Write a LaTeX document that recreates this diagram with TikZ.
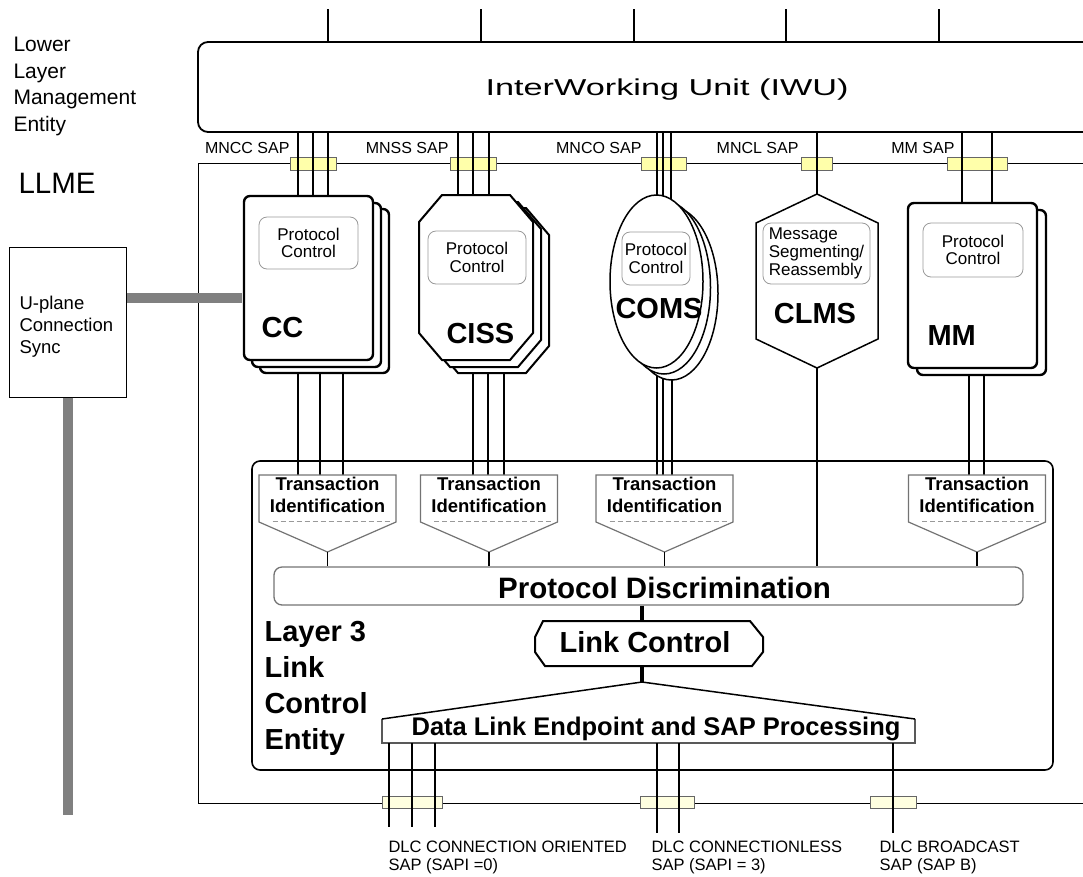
\documentclass[tikz,border=0pt]{standalone}
\usepackage{fontspec}
\setmainfont{Liberation Sans}
\usetikzlibrary{positioning,calc,shapes.geometric}
\definecolor{sapyel}{RGB}{255,255,170}
\definecolor{sapcream}{RGB}{255,255,224}
\definecolor{bargray}{RGB}{128,128,128}
\newcommand{\fsz}[2]{\fontsize{#1}{#2}\selectfont}

\begin{document}
\begin{tikzpicture}[x=1pt,y=-1pt,
  conn/.style={line width=1.2pt},
  sapbox/.style={draw=black!60, fill=sapyel, line width=1pt},
  dlcbox/.style={draw=black!60, fill=sapcream, line width=1pt},
  ent/.style={draw, fill=white, line width=2.4pt, rounded corners=6pt, inner sep=0pt},
  pcbox/.style={draw=black!40, fill=white, line width=0.8pt, rounded corners=8pt, inner sep=1pt},
  pctext/.style={font=\fsz{17}{17.5}, align=center},
  biglbl/.style={font=\fsz{29}{36}\bfseries},
  tibox/.style={draw=black!55, fill=white, line width=1.2pt},
  saplbl/.style={font=\fsz{16}{18}, anchor=base east},
  dlclbl/.style={font=\fsz{16.5}{18}, anchor=base west, align=left},
  ubar/.style={draw=bargray, line width=9.5pt}
]
\useasboundingbox (0,0) rectangle (1083,876);
\clip (0,0) rectangle (1083,876);

% frames
\draw[line width=1pt] (1100,163) -- (198,163) -- (198,803) -- (1100,803);
\draw[line width=1.6pt, rounded corners=8pt] (252,461) rectangle (1053,770);

% interworking unit
\node[draw, line width=1.8pt, rounded corners=10pt, inner sep=0pt, minimum width=922pt, minimum height=90pt] (IWU) at (659,87) {};
\node[anchor=base west, font=\fsz{23}{26}] (IWUtxt) at (482,95) {\scalebox{1.49}[1]{InterWorking Unit (IWU)}};
\foreach \x in {328,481,634,786,939} \draw[conn] (\x,9) -- (\x,0 |- IWU.north);

% management SAPs
\foreach \a/\b in {290/336, 450/496, 641/686, 801/832, 947/1007}
  \draw[sapbox] (\a,157) rectangle (\b,170);
\foreach \x/\t in {293/MNCC, 452/MNSS, 645/MNCO, 802/MNCL, 958/MM}
  \node[saplbl] (L\t) at (\x,153) {\t\ SAP};

% protocol discrimination
\node[draw=black!55, line width=1.3pt, rounded corners=8pt, inner sep=0pt, minimum width=749pt, minimum height=38pt] (PD) at (648.5,586) {};
\node[font=\fsz{29.5}{30}\bfseries, anchor=base] (PDtxt) at (664.5,598) {Protocol Discrimination};

\coordinate (T1) at (327.5,475);
\coordinate (T2) at (489,475);
\coordinate (T3) at (664.5,476);
\coordinate (T4) at (977,476);

% connectors to the entities
\foreach \x in {298,313,328} \draw[conn] (\x,0 |- IWU.south) -- (\x,230);
\foreach \x in {298,320,343} \draw[conn] (\x,330) -- (\x,0 |- T1);
\foreach \x in {458,473,489} \draw[conn] (\x,0 |- IWU.south) -- (\x,230);
\foreach \x in {473,488,504} \draw[conn] (\x,330) -- (\x,0 |- T2);
\foreach \x in {657,663,671} \draw[conn] (\x,0 |- IWU.south) -- (\x,230);
\foreach \x in {657,663,672} \draw[conn] (\x,330) -- (\x,0 |- T3);
\draw[conn] (817,0 |- IWU.south) -- (817,0 |- PD.north);
\foreach \x in {962,992} \draw[conn] (\x,0 |- IWU.south) -- (\x,230);
\foreach \x in {969,984} \draw[conn] (\x,330) -- (\x,0 |- T4);

% CC
\foreach \d/\e in {16/13,8/7}
  \node[ent, minimum width=129pt, minimum height=164pt] at (308.5+\d,278+\e) {};
\node[ent, minimum width=129pt, minimum height=164pt] (CC) at (308.5,278) {};
\node[pcbox, pctext, minimum width=99pt, minimum height=52pt] (CCpc) at (308.5,243) {Protocol\\Control};
\node[biglbl, anchor=base west] (CClbl) at (258,337) {CC};

% CISS
\foreach \d/\e in {16/13,8/7,0/0}
  \draw[line width=2pt, fill=white, shift={(\d,\e)}] (419,222) -- (442,195) -- (510,195) -- (533,222)
    -- (533,333) -- (510,360) -- (442,360) -- (419,333) -- cycle;
\coordinate (CISS) at (476,277.5);
\node[pcbox, pctext, minimum width=98pt, minimum height=53pt] (CISSpc) at (477,257.5) {Protocol\\Control};
\node[biglbl, anchor=base west] (CISSlbl) at (443,343) {CISS};

% COMS
\foreach \d/\e in {15/12,7.5/6}
  \node[draw, ellipse, fill=white, line width=1.5pt, inner sep=0pt, minimum width=93pt, minimum height=173pt] at (656.5+\d,281.5+\e) {};
\node[draw, ellipse, fill=white, line width=1.5pt, inner sep=0pt, minimum width=93pt, minimum height=173pt] (COMS) at (656.5,281.5) {};
\node[pcbox, pctext, minimum width=68pt, minimum height=53pt] (COMSpc) at (656,258.5) {Protocol\\Control};
\node[biglbl, anchor=base] (COMSlbl) at (659,318) {COMS};

% CLMS
\draw[line width=1.5pt, fill=white] (817,194) -- (878,223) -- (878,339) -- (817,368) -- (756,339) -- (756,223) -- cycle;
\coordinate (CLMS) at (817,281);
\node[pcbox, font=\fsz{17}{18}, align=left, minimum width=107pt, minimum height=61pt] (CLMSpc) at (816.5,253.5) {Message\\Segmenting/\\Reassembly};
\node[biglbl, anchor=base] (CLMSlbl) at (815,323) {CLMS};

% MM
\node[ent, minimum width=129pt, minimum height=165pt] at (981.5,292.5) {};
\node[ent, minimum width=129pt, minimum height=165pt] (MM) at (972.5,285.5) {};
\node[pcbox, pctext, minimum width=100pt, minimum height=54pt] (MMpc) at (973,250) {Protocol\\Control};
\node[biglbl, anchor=base west] (MMlbl) at (924,345) {MM};

% transaction identification
\foreach \c [count=\i] in {327.5,489,664.5,977} {
  \draw[tibox] (\c-68.5,475) -- (\c+68.5,475) -- (\c+68.5,522) -- (\c,552) -- (\c-68.5,522) -- cycle;
  \draw[draw=black!40, line width=1pt, dash pattern=on 5pt off 3pt] (\c-55,521) -- (\c+62,521);
  \node[font=\fsz{18.5}{22}\bfseries, align=center, anchor=base] (TI\i) at (\c,512) {Transaction\\Identification};
  \coordinate (TIp\i) at (\c,552);
  \draw[conn] (TIp\i) -- (TIp\i |- PD.north);
}

% link control
\coordinate (LCn) at (642,621);
\coordinate (LCs) at (642,666);
\coordinate (DLa) at (642,682);
\draw[line width=2pt, fill=white] (543,621) -- (750,621) -- (763,637) -- (763,652) -- (752,666)
  -- (545,666) -- (535,652) -- (535,637) -- cycle;
\node[biglbl, anchor=base] (LC) at (645,652) {Link Control};
\draw[line width=4pt] (PD.south -| LCn) -- (LCn);
\draw[line width=4pt] (LCs) -- (DLa);

% data link endpoint
\draw[draw=black!65, line width=1.3pt] (382,719) -- (382,743) -- (915,743) -- (915,719);
\draw[line width=1.5pt] (382,719) -- (DLa) -- (915,719);
\node[font=\fsz{25.5}{28}\bfseries, anchor=base] (DL) at (656,735) {Data Link Endpoint and SAP Processing};
\node[biglbl, anchor=base west, align=left] (L3txt) at (261,749) {Layer 3\\Link\\Control\\Entity};

% DLC SAPs
\foreach \a/\b in {382/442, 640/694, 870/916}
  \draw[dlcbox] (\a,796) rectangle (\b,808);
\foreach \x in {389,412,435} \draw[conn] (\x,743) -- (\x,827);
\foreach \x in {657,679,893} \draw[conn] (\x,743) -- (\x,833);
\node[dlclbl] (DLC1) at (385,870) {DLC CONNECTION ORIENTED\\SAP (SAPI =0)};
\node[dlclbl] (DLC2) at (648,870) {DLC CONNECTIONLESS\\SAP (SAPI = 3)};
\node[dlclbl] (DLC3) at (876,870) {DLC BROADCAST\\SAP (SAP B)};

% LLME side
\node[anchor=base west, font=\fsz{21}{26.5}, align=left] (LLtxt) at (10,131) {Lower\\Layer\\Management\\Entity};
\node[anchor=base west, font=\fsz{29.5}{32}] (LLME) at (15,193) {LLME};
\node[draw, line width=1pt, inner sep=0pt, minimum width=117pt, minimum height=150pt] (UPL) at (67.5,322) {};
\node[anchor=base west, align=left, font=\fsz{18.5}{22}] (UPLtxt) at (16,353) {U-plane\\Connection\\Sync};
\draw[ubar, shorten >=1.2pt] (UPL.east |- 0,298) -- (CC.west |- 0,298);
\draw[ubar] (68,0 |- UPL.south) -- (68,815);
\end{tikzpicture}
\end{document}
